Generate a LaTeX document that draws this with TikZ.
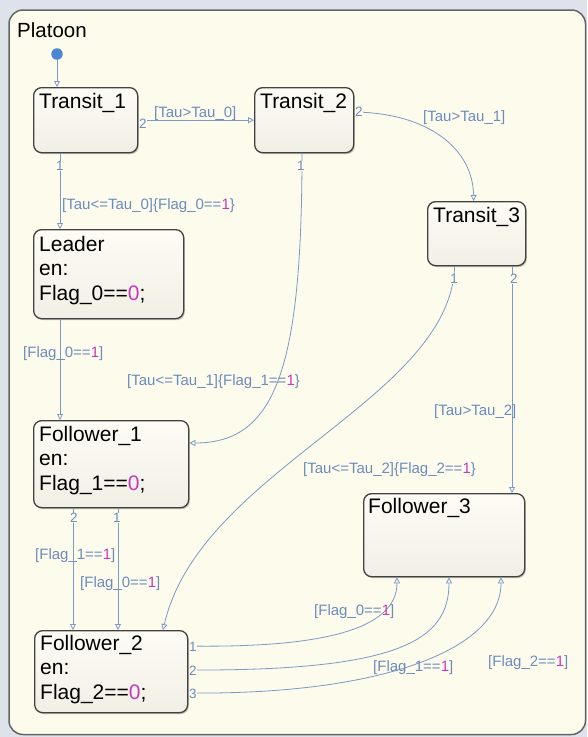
\documentclass[tikz,border=0pt]{standalone}
\usepackage{fontspec}
\setmainfont{Liberation Sans}
\usetikzlibrary{arrows.meta,shadows}

\definecolor{outerbg}{RGB}{221,226,235}
\definecolor{chartbg}{RGB}{253,251,235}
\definecolor{framec}{RGB}{100,100,100}
\definecolor{stateedge}{RGB}{66,66,66}
\definecolor{statetop}{RGB}{253,252,245}
\definecolor{statebot}{RGB}{241,239,229}
\definecolor{wire}{RGB}{122,154,200}
\definecolor{guard}{RGB}{108,140,190}
\definecolor{num}{RGB}{198,58,190}
\definecolor{dotc}{RGB}{74,134,210}

\newcommand{\hl}[1]{\textcolor{num}{#1}}

\tikzset{
  statebox/.style={draw=stateedge, line width=1.3pt, rounded corners=8pt,
    top color=statetop, bottom color=statebot,
    drop shadow={shadow xshift=1.2pt, shadow yshift=-1.5pt, opacity=0.22, fill=black},
    anchor=north west, inner sep=0pt},
  stxt/.style={anchor=base west, font=\fontsize{21}{24.5}\selectfont, align=left,
    inner sep=0pt, text=black},
  trans/.style={draw=wire, line width=0.8pt, -{Triangle[open, length=6pt, width=6pt]}},
  guardlbl/.style={anchor=base west, inner sep=0pt, font=\fontsize{15}{18}\selectfont, text=guard},
  portno/.style={inner sep=0.6pt, fill=chartbg, font=\fontsize{13.5}{15}\selectfont, text=guard},
  initdot/.style={circle, fill=dotc, minimum size=11.5pt, inner sep=0pt},
}

\begin{document}
\begin{tikzpicture}[x=1pt, y=-1pt]
\useasboundingbox (0,0) rectangle (587,737);

% canvas and chart frame
\fill[outerbg] (0,0) rectangle (587,737);
\draw[framec, line width=1.5pt, fill=chartbg, rounded corners=14pt] (9,10) rectangle (585.5,734.5);
\node[anchor=base west, inner sep=0pt, font=\fontsize{20.5}{24}\selectfont] (title) at (17,37) {Platoon};

% states
\node[statebox, minimum width=104pt, minimum height=65pt] (t1) at (33,87) {};
\node[statebox, minimum width=99pt, minimum height=65pt] (t2) at (254,87) {};
\node[statebox, minimum width=98pt, minimum height=64pt] (t3) at (427,201) {};
\node[statebox, minimum width=150pt, minimum height=89pt] (leader) at (33,229) {};
\node[statebox, minimum width=155pt, minimum height=87pt] (f1) at (33,420) {};
\node[statebox, minimum width=153pt, minimum height=82pt] (f2) at (34,630) {};
\node[statebox, minimum width=161pt, minimum height=83pt] (f3) at (363,493) {};

% state names and entry actions (base anchor = last line of a multi-line node)
\node[stxt] (t1name) at ([xshift=6pt,yshift=-21pt]t1.north west) {Transit\_1};
\node[stxt] (t2name) at ([xshift=6pt,yshift=-21pt]t2.north west) {Transit\_2};
\node[stxt] (t3name) at ([xshift=6pt,yshift=-21pt]t3.north west) {Transit\_3};
\node[stxt] (leadname) at ([xshift=6pt,yshift=-71pt]leader.north west) {Leader\\en:\\Flag\_0==\hl{0};};
\node[stxt] (f1name) at ([xshift=6pt,yshift=-70pt]f1.north west) {Follower\_1\\en:\\Flag\_1==\hl{0};};
\node[stxt] (f2name) at ([xshift=6pt,yshift=-69pt]f2.north west) {Follower\_2\\en:\\Flag\_2==\hl{0};};
\node[stxt] (f3name) at ([xshift=5pt,yshift=-20pt]f3.north west) {Follower\_3};

% default transition
\node[initdot] (init) at (57,54) {};
\draw[trans] (init) -- (t1.north -| init);

% column guides for straight transitions
\coordinate (xa) at (60,0);
\coordinate (xb) at (302,0);
\coordinate (xc) at (512,0);
\coordinate (xd) at (73,0);
\coordinate (xe) at (118,0);

% transitions
\draw[trans] (t1.east) -- (t2.west);
\draw[trans] (t1.south -| xa) -- (leader.north -| xa);
\draw[trans] (leader.south -| xa) -- (f1.north -| xa);
\draw[trans] (t2.south -| xb) .. controls (302,370) and (275,443) .. ([yshift=-23pt]f1.north east);
\draw[trans] ([yshift=-25pt]t2.north east) .. controls (430,113) and (473,150) .. ([xshift=-3pt]t3.north);
\draw[trans] ([xshift=-22pt]t3.south) .. controls (450,400) and (200,470) .. ([xshift=129pt]f2.north west);
\draw[trans] (t3.south -| xc) -- (f3.north -| xc);
\draw[trans] (f1.south -| xd) -- (f2.north -| xd);
\draw[trans] (f1.south -| xe) -- (f2.north -| xe);
\draw[trans] ([yshift=-16pt]f2.north east) .. controls (320,648) and (397,630) .. ([xshift=34pt]f3.south west);
\draw[trans] ([yshift=-40pt]f2.north east) .. controls (400,671) and (449,640) .. ([xshift=86pt]f3.south west);
\draw[trans] ([yshift=-63pt]f2.north east) .. controls (380,695) and (501,650) .. ([xshift=138pt]f3.south west);

% execution order numbers
\node[portno] (n12) at (143,124) {2};
\node[portno] (n11) at (60,166) {1};
\node[portno] (n22) at (359,112) {2};
\node[portno] (n21) at (301,166) {1};
\node[portno] (n31) at (454,279) {1};
\node[portno] (n32) at (514,279) {2};
\node[portno] (nf12) at (74,518) {2};
\node[portno] (nf11) at (117,518) {1};
\node[portno] (nf21) at (193,647) {1};
\node[portno] (nf22) at (193,671) {2};
\node[portno] (nf23) at (193,694) {3};

% guards and actions
\node[guardlbl] (g1) at (154,117) {[Tau>Tau\_0]};
\node[guardlbl] (g2) at (62,209) {[Tau<=Tau\_0]\{Flag\_0==\hl{1}\}};
\node[guardlbl] (g3) at (423,121) {[Tau>Tau\_1]};
\node[guardlbl] (g4) at (23,357) {[Flag\_0==\hl{1}]};
\node[guardlbl] (g5) at (127,385) {[Tau<=Tau\_1]\{Flag\_1==\hl{1}\}};
\node[guardlbl] (g6) at (434,415) {[Tau>Tau\_2]};
\node[guardlbl] (g7) at (303,473) {[Tau<=Tau\_2]\{Flag\_2==\hl{1}\}};
\node[guardlbl] (g8) at (35,559) {[Flag\_1==\hl{1}]};
\node[guardlbl] (g9) at (80,587) {[Flag\_0==\hl{1}]};
\node[guardlbl] (g10) at (314,615) {[Flag\_0==\hl{1}]};
\node[guardlbl] (g11) at (373,671) {[Flag\_1==\hl{1}]};
\node[guardlbl] (g12) at (488,666) {[Flag\_2==\hl{1}]};
\end{tikzpicture}
\end{document}
